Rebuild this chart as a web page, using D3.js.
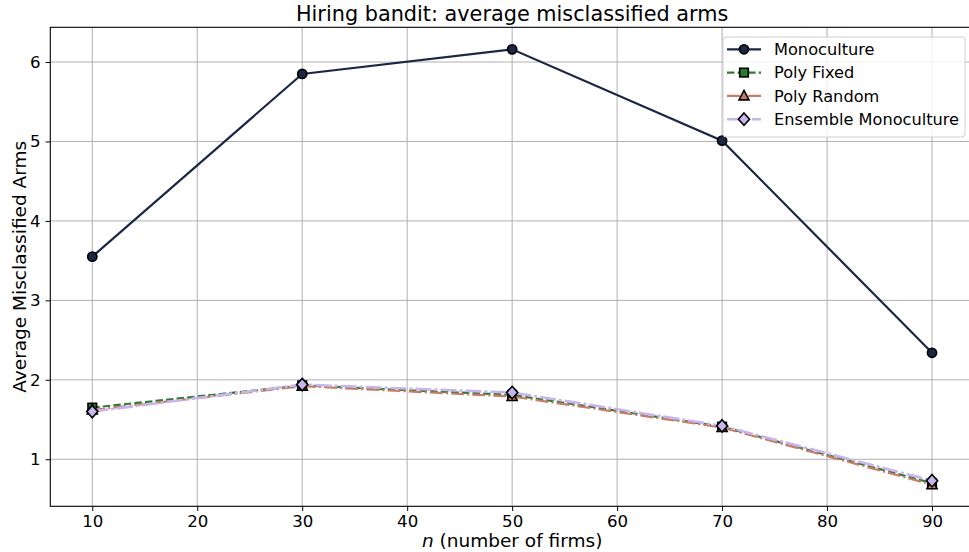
<!DOCTYPE html>
<html lang="en">
<head>
    <meta charset="UTF-8">
    <title>Hiring bandit: average misclassified arms</title>
    <script src="https://d3js.org/d3.v7.min.js"></script>
    <style>
        body {
            margin: 0;
            background: #ffffff;
            font-family: "DejaVu Sans", sans-serif;
        }
        svg {
            display: block;
        }
        .grid line {
            stroke: #b0b0b0;
            stroke-width: 1;
        }
        .tick text {
            font-family: "DejaVu Sans", sans-serif;
            font-size: 16.6px;
            fill: #000;
        }
        .axis-label {
            font-size: 18.5px;
        }
    </style>
</head>
<body>

<svg width="969" height="552"></svg>

<script>
    // data
    const firms = [10, 30, 50, 70, 90];
    const monoculture = [3.55, 5.85, 6.16, 5.01, 2.34];
    const polyFixed = [1.65, 1.93, 1.81, 1.41, 0.70];
    const polyRandom = [1.62, 1.92, 1.79, 1.40, 0.68];
    const ensembleMono = [1.60, 1.94, 1.84, 1.42, 0.73];
    const xTicks = [10, 20, 30, 40, 50, 60, 70, 80, 90];
    const yTicks = [1, 2, 3, 4, 5, 6];

    const series = [
        { name: "Monoculture", values: monoculture, color: "#1c2746", dash: null, width: 2.2, marker: "circle" },
        { name: "Poly Fixed", values: polyFixed, color: "#2d7a32", dash: "7.4,3.2", width: 2.2, marker: "square" },
        { name: "Poly Random", values: polyRandom, color: "#c87c66", dash: "12.8,3.2,2,3.2", width: 2.2, marker: "triangle" },
        { name: "Ensemble Monoculture", values: ensembleMono, color: "#c7b5ee", dash: "16,3,3,3", width: 2.6, marker: "diamond" }
    ];

    const width = 969, height = 552;
    const margin = { top: 27.3, right: -5, bottom: 45.7, left: 50.3 };
    const svg = d3.select("svg");

    const x = d3.scaleLinear().domain([6, 94]).range([margin.left, width - margin.right]);
    const y = d3.scaleLinear().domain([0.408, 6.437]).range([height - margin.bottom, margin.top]);

    svg.append("defs").append("clipPath").attr("id", "plot-clip")
        .append("rect")
        .attr("x", margin.left).attr("y", margin.top)
        .attr("width", x.range()[1] - margin.left)
        .attr("height", y.range()[0] - margin.top);

    // grid
    svg.append("g").attr("class", "grid")
        .selectAll("line").data(xTicks).enter().append("line")
        .attr("x1", d => x(d)).attr("x2", d => x(d))
        .attr("y1", y.range()[0]).attr("y2", y.range()[1]);
    svg.append("g").attr("class", "grid")
        .selectAll("line").data(yTicks).enter().append("line")
        .attr("x1", x.range()[0]).attr("x2", x.range()[1])
        .attr("y1", d => y(d)).attr("y2", d => y(d));

    // axes
    const xAxis = svg.append("g")
        .attr("transform", `translate(0,${y.range()[0]})`)
        .call(d3.axisBottom(x).tickValues(xTicks).tickFormat(d3.format("d")).tickSize(4.7).tickPadding(4));
    const yAxis = svg.append("g")
        .attr("transform", `translate(${margin.left},0)`)
        .call(d3.axisLeft(y).tickValues(yTicks).tickFormat(d3.format("d")).tickSize(4.7).tickPadding(5));
    [xAxis, yAxis].forEach(a => {
        a.select(".domain").remove();
        a.selectAll(".tick line").attr("stroke", "#000").attr("stroke-width", 1);
    });

    // spines
    svg.append("rect")
        .attr("fill", "none").attr("stroke", "#000").attr("stroke-width", 1.1)
        .attr("x", margin.left).attr("y", margin.top)
        .attr("width", x.range()[1] - margin.left)
        .attr("height", y.range()[0] - margin.top);

    // lines
    const line = d3.line().x((d, i) => x(firms[i])).y(d => y(d));
    const plot = svg.append("g").attr("clip-path", "url(#plot-clip)");

    function drawMarker(g, type, cx, cy, fill) {
        let el;
        if (type === "circle") {
            el = g.append("circle").attr("cx", cx).attr("cy", cy).attr("r", 4.6);
        } else if (type === "square") {
            el = g.append("rect").attr("x", cx - 4.3).attr("y", cy - 4.3).attr("width", 8.6).attr("height", 8.6);
        } else if (type === "triangle") {
            el = g.append("path").attr("d", `M${cx},${cy - 5.5}L${cx + 5},${cy + 4}L${cx - 5},${cy + 4}Z`);
        } else {
            el = g.append("path").attr("d", `M${cx},${cy - 6.2}L${cx + 5.6},${cy}L${cx},${cy + 6.2}L${cx - 5.6},${cy}Z`);
        }
        el.attr("fill", fill).attr("stroke", "#000").attr("stroke-width", 1.6);
    }

    series.forEach(s => {
        plot.append("path")
            .datum(s.values)
            .attr("fill", "none")
            .attr("stroke", s.color)
            .attr("stroke-width", s.width)
            .attr("stroke-dasharray", s.dash)
            .attr("d", line);
        const mg = plot.append("g");
        s.values.forEach((v, i) => drawMarker(mg, s.marker, x(firms[i]), y(v), s.color));
    });

    // title and labels
    svg.append("text")
        .attr("x", (margin.left + x.range()[1]) / 2).attr("y", 20.5)
        .attr("text-anchor", "middle")
        .style("font-size", "20.8px")
        .text("Hiring bandit: average misclassified arms");

    const xl = svg.append("text")
        .attr("class", "axis-label")
        .attr("x", (margin.left + x.range()[1]) / 2).attr("y", 547)
        .attr("text-anchor", "middle");
    xl.append("tspan").style("font-style", "italic").text("n");
    xl.append("tspan").text(" (number of firms)");

    svg.append("text")
        .attr("class", "axis-label")
        .attr("transform", `translate(20,${(margin.top + y.range()[0]) / 2}) rotate(-90)`)
        .attr("text-anchor", "middle")
        .attr("dy", "0.35em")
        .text("Average Misclassified Arms");

    // legend
    const legend = svg.append("g").attr("transform", "translate(723,37)");
    legend.append("rect")
        .attr("width", 242).attr("height", 100).attr("rx", 3)
        .attr("fill", "#fff").attr("fill-opacity", 0.8)
        .attr("stroke", "#d0d0d0").attr("stroke-width", 1);
    series.forEach((s, i) => {
        const ry = 12.3 + i * 23.3;
        const row = legend.append("g");
        row.append("line")
            .attr("x1", 4).attr("x2", 38).attr("y1", ry).attr("y2", ry)
            .attr("stroke", s.color).attr("stroke-width", s.width)
            .attr("stroke-dasharray", s.dash);
        drawMarker(row, s.marker, 21, ry, s.color);
        row.append("text")
            .attr("x", 51).attr("y", ry).attr("dy", "0.35em")
            .style("font-size", "16.2px")
            .text(s.name);
    });
</script>

</body>
</html>
